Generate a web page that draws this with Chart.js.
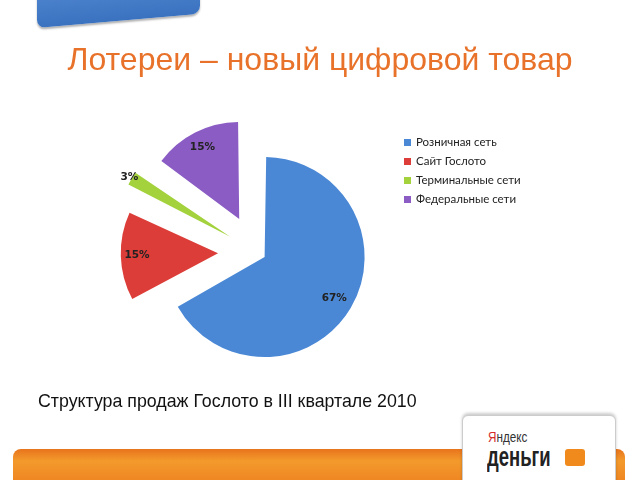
<!DOCTYPE html>
<html>
<head>
<meta charset="utf-8">
<script src="https://cdn.jsdelivr.net/npm/chart.js@4"></script>
<style>
  html,body{margin:0;padding:0;background:#fff;}
  #wrap{position:relative;width:640px;height:480px;overflow:hidden;background:#fff;}
  #c{position:absolute;left:0;top:0;}
  .txt{position:absolute;white-space:nowrap;}
  #title{left:0;width:640px;text-align:center;top:41px;font:32px "Liberation Sans",Arial,sans-serif;color:#e8722a;}
  #sub{left:38px;top:391px;font:17.8px "Liberation Sans",Arial,sans-serif;color:#111;}
  #legend{position:absolute;left:404px;top:134px;font:11.5px Lato,"Open Sans",sans-serif;color:#222;}
  #legend div{height:19px;line-height:16px;}
  #legend span.sw{display:inline-block;width:7px;height:7px;margin-right:5px;vertical-align:0px;}
  #bluebox{position:absolute;left:37px;top:-26px;width:163px;height:54px;border-radius:8px;background:linear-gradient(#5a8fd6,#3a72c0);transform:skewY(-5deg);transform-origin:0 100%;box-shadow:0 2px 2px rgba(0,0,0,0.3);}
  #bar{position:absolute;left:13px;top:449px;width:612px;height:40px;border-radius:8px;background:linear-gradient(#e8741c,#f39a2c 30%,#f08a24 70%,#ec7a1c);}
  #ybox{position:absolute;left:462px;top:415px;width:152px;height:80px;border-radius:6px;background:#fff;border:1px solid #ccc;box-shadow:0 -2px 3px rgba(0,0,0,0.2);}
  #y1{left:488px;top:428px;font:15px "Liberation Sans",sans-serif;color:#333;transform:scaleX(0.78);transform-origin:0 0;}
  #y1 b{font-weight:normal;color:#d42a2a;}
  #y2{left:487px;top:441px;font:bold 28px "Liberation Sans",sans-serif;color:#222;transform:scaleX(0.66);transform-origin:0 0;}
  #wallet{position:absolute;left:565px;top:449px;width:20px;height:17px;background:#f08a1c;border-radius:3px;}
</style>
</head>
<body>
<div id="wrap">
  <div id="bluebox"></div>
  <div id="bar"></div>
  <div id="ybox"></div>
  <div class="txt" id="y1"><b>Я</b>ндекс</div>
  <div class="txt" id="y2">деньги</div>
  <div id="wallet"></div>
  <canvas id="c" width="640" height="480"></canvas>
  <div class="txt" id="title">Лотереи – новый цифровой товар</div>
  <div class="txt" id="sub">Структура продаж Гослото в III квартале 2010</div>
  <div id="legend"></div>
</div>
<script>
const categories = ['Розничная сеть', 'Сайт Гослото', 'Терминальные сети', 'Федеральные сети'];
const values = [67, 15, 3, 15];
const colors = ['#4a88d6', '#dd3d38', '#a3d23c', '#8a5cc4'];
const offsets = [40, 152, 120, 148];

// HTML legend
const leg = document.getElementById('legend');
categories.forEach((c, i) => {
  const d = document.createElement('div');
  d.innerHTML = '<span class="sw" style="background:' + colors[i] + '"></span>' + c;
  leg.appendChild(d);
});

const labelPlugin = {
  id: 'pctLabels',
  afterDatasetsDraw(chart) {
    const ctx = chart.ctx;
    const meta = chart.getDatasetMeta(0);
    const total = values.reduce((a, b) => a + b, 0);
    ctx.save();
    ctx.font = 'bold 10.5px "DejaVu Sans", sans-serif';
    ctx.fillStyle = '#222';
    ctx.textAlign = 'center';
    ctx.textBaseline = 'middle';
    meta.data.forEach((arc, i) => {
      const mid = (arc.startAngle + arc.endAngle) / 2;
      const t = offsets[i] / 4;
      const frac = values[i] / total;
      const r = frac < 0.05 ? arc.outerRadius * 1.3 + t : arc.outerRadius * 0.9 + t;
      const x = arc.x + Math.cos(mid) * r;
      const y = arc.y + Math.sin(mid) * r;
      ctx.fillText(Math.round(frac * 100) + '%', x, y);
    });
    ctx.restore();
  }
};

// center of pie at (256, 252)
new Chart(document.getElementById('c'), {
  type: 'pie',
  data: {
    labels: categories,
    datasets: [{
      data: values,
      backgroundColor: colors,
      borderWidth: 0,
      offset: offsets,
      radius: 90
    }]
  },
  options: {
    responsive: false,
    animation: false,
    layout: { padding: { left: 0, right: 640 - 2 * 256, top: 2 * 252 - 480, bottom: 0 } },
    plugins: { legend: { display: false }, tooltip: { enabled: false } }
  },
  plugins: [labelPlugin]
});
</script>
</body>
</html>
